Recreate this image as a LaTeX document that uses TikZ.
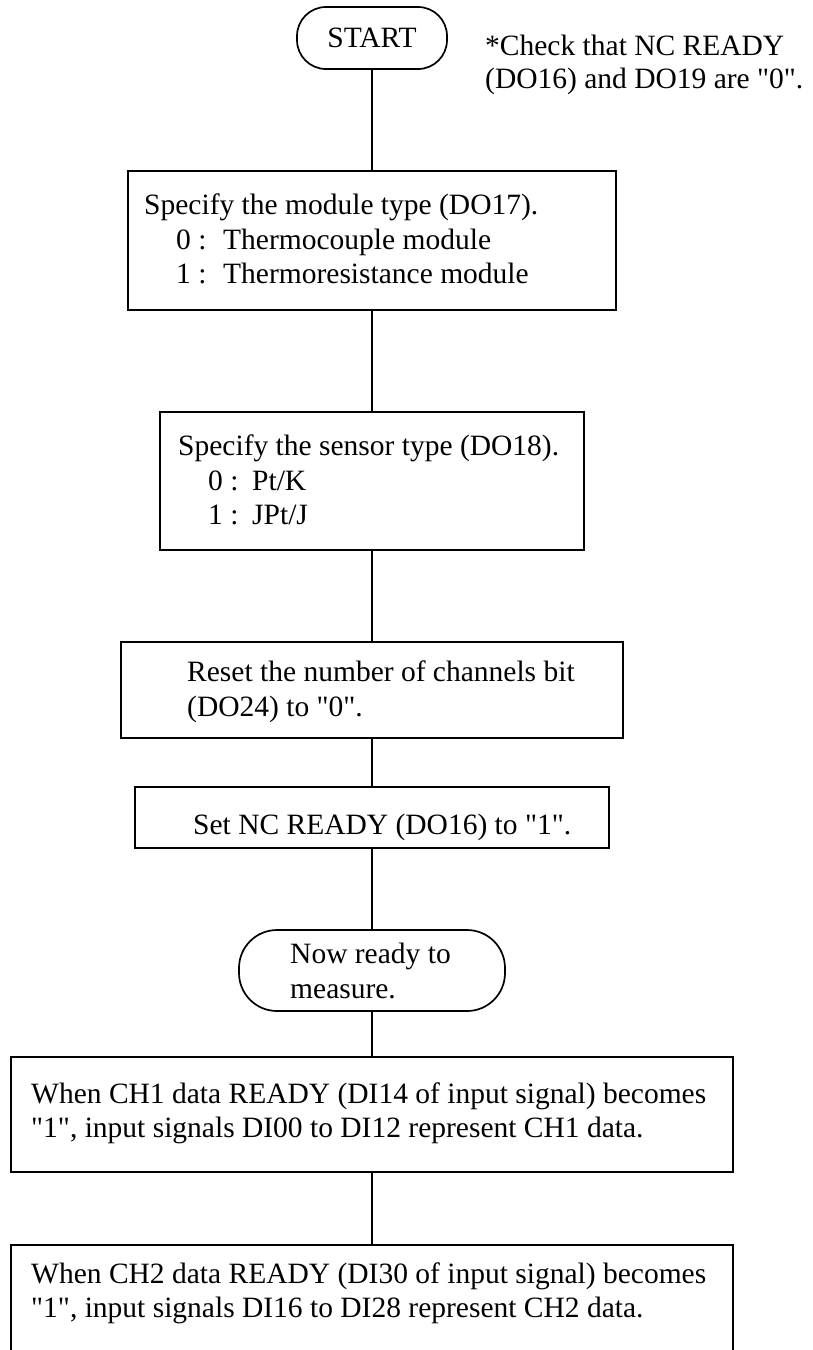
\documentclass[tikz,border=0pt]{standalone}
\usepackage{fontspec}
\setmainfont{Liberation Serif}
\newcommand{\sq}{\XeTeXglyph\XeTeXcharglyph"22\relax}
\begin{document}
\begin{tikzpicture}[x=1pt,y=-1pt,
  box/.style={draw, line width=1.7pt, inner sep=0pt},
  conn/.style={line width=1.3pt},
  txt/.style={anchor=base west, inner sep=0pt, font=\fontsize{29.5}{35}\selectfont}]
\useasboundingbox (0,0) rectangle (812,1350);
\clip (0,0) rectangle (812,1350);
% shapes
\node[box, rounded corners=29pt, minimum width=150pt, minimum height=62pt,
      font=\fontsize{29.5}{35}\selectfont] (start) at (372,38) {START};
\node[box, minimum width=488pt, minimum height=139pt] (b1) at (372,240.5) {};
\node[box, minimum width=424pt, minimum height=138pt] (b2) at (372,481) {};
\node[box, minimum width=502pt, minimum height=96pt] (b3) at (372,690) {};
\node[box, minimum width=474pt, minimum height=61pt] (b4) at (372,817.5) {};
\node[box, rounded corners=38pt, minimum width=266pt, minimum height=81pt] (ready) at (372,970.5) {};
\node[box, minimum width=722pt, minimum height=115pt] (b5) at (372,1114.5) {};
\node[box, minimum width=722pt, minimum height=130pt] (b6) at (372,1310) {};
% connectors
\draw[conn] (start.south) -- (b1.north);
\draw[conn] (b1.south) -- (b2.north);
\draw[conn] (b2.south) -- (b3.north);
\draw[conn] (b3.south) -- (b4.north);
\draw[conn] (b4.south) -- (ready.north);
\draw[conn] (ready.south) -- (b5.north);
\draw[conn] (b5.south) -- (b6.north);
% texts
\node[txt] (n1) at (485,55) {*Check that NC READY};
\node[txt] (n2) at (485,88) {(DO16) and DO19 are \sq0\sq.};
\node[txt] (t1a) at (144,214) {Specify the module type (DO17).};
\node[txt] (t1b) at (176,249) {\makebox[47pt][l]{0 :}Thermocouple module};
\node[txt] (t1c) at (176,283) {\makebox[47pt][l]{1 :}Thermoresistance module};
\node[txt] (t2a) at (178,455) {Specify the sensor type (DO18).};
\node[txt] (t2b) at (208,490) {\makebox[44pt][l]{0 :}Pt/K};
\node[txt] (t2c) at (208,524) {\makebox[44pt][l]{1 :}JPt/J};
\node[txt] (t3a) at (187,681) {Reset the number of channels bit};
\node[txt] (t3b) at (187,716) {(DO24) to \sq0\sq.};
\node[txt] (t4) at (193,834) {Set NC READY (DO16) to \sq1\sq.};
\node[txt] (t5a) at (290,963) {Now ready to};
\node[txt] (t5b) at (290,998) {measure.};
\node[txt] (t6a) at (31,1103) {When CH1 data READY (DI14 of input signal) becomes};
\node[txt] (t6b) at (31,1137) {\sq1\sq, input signals DI00 to DI12 represent CH1 data.};
\node[txt] (t7a) at (31,1283) {When CH2 data READY (DI30 of input signal) becomes};
\node[txt] (t7b) at (31,1317) {\sq1\sq, input signals DI16 to DI28 represent CH2 data.};
\end{tikzpicture}
\end{document}
